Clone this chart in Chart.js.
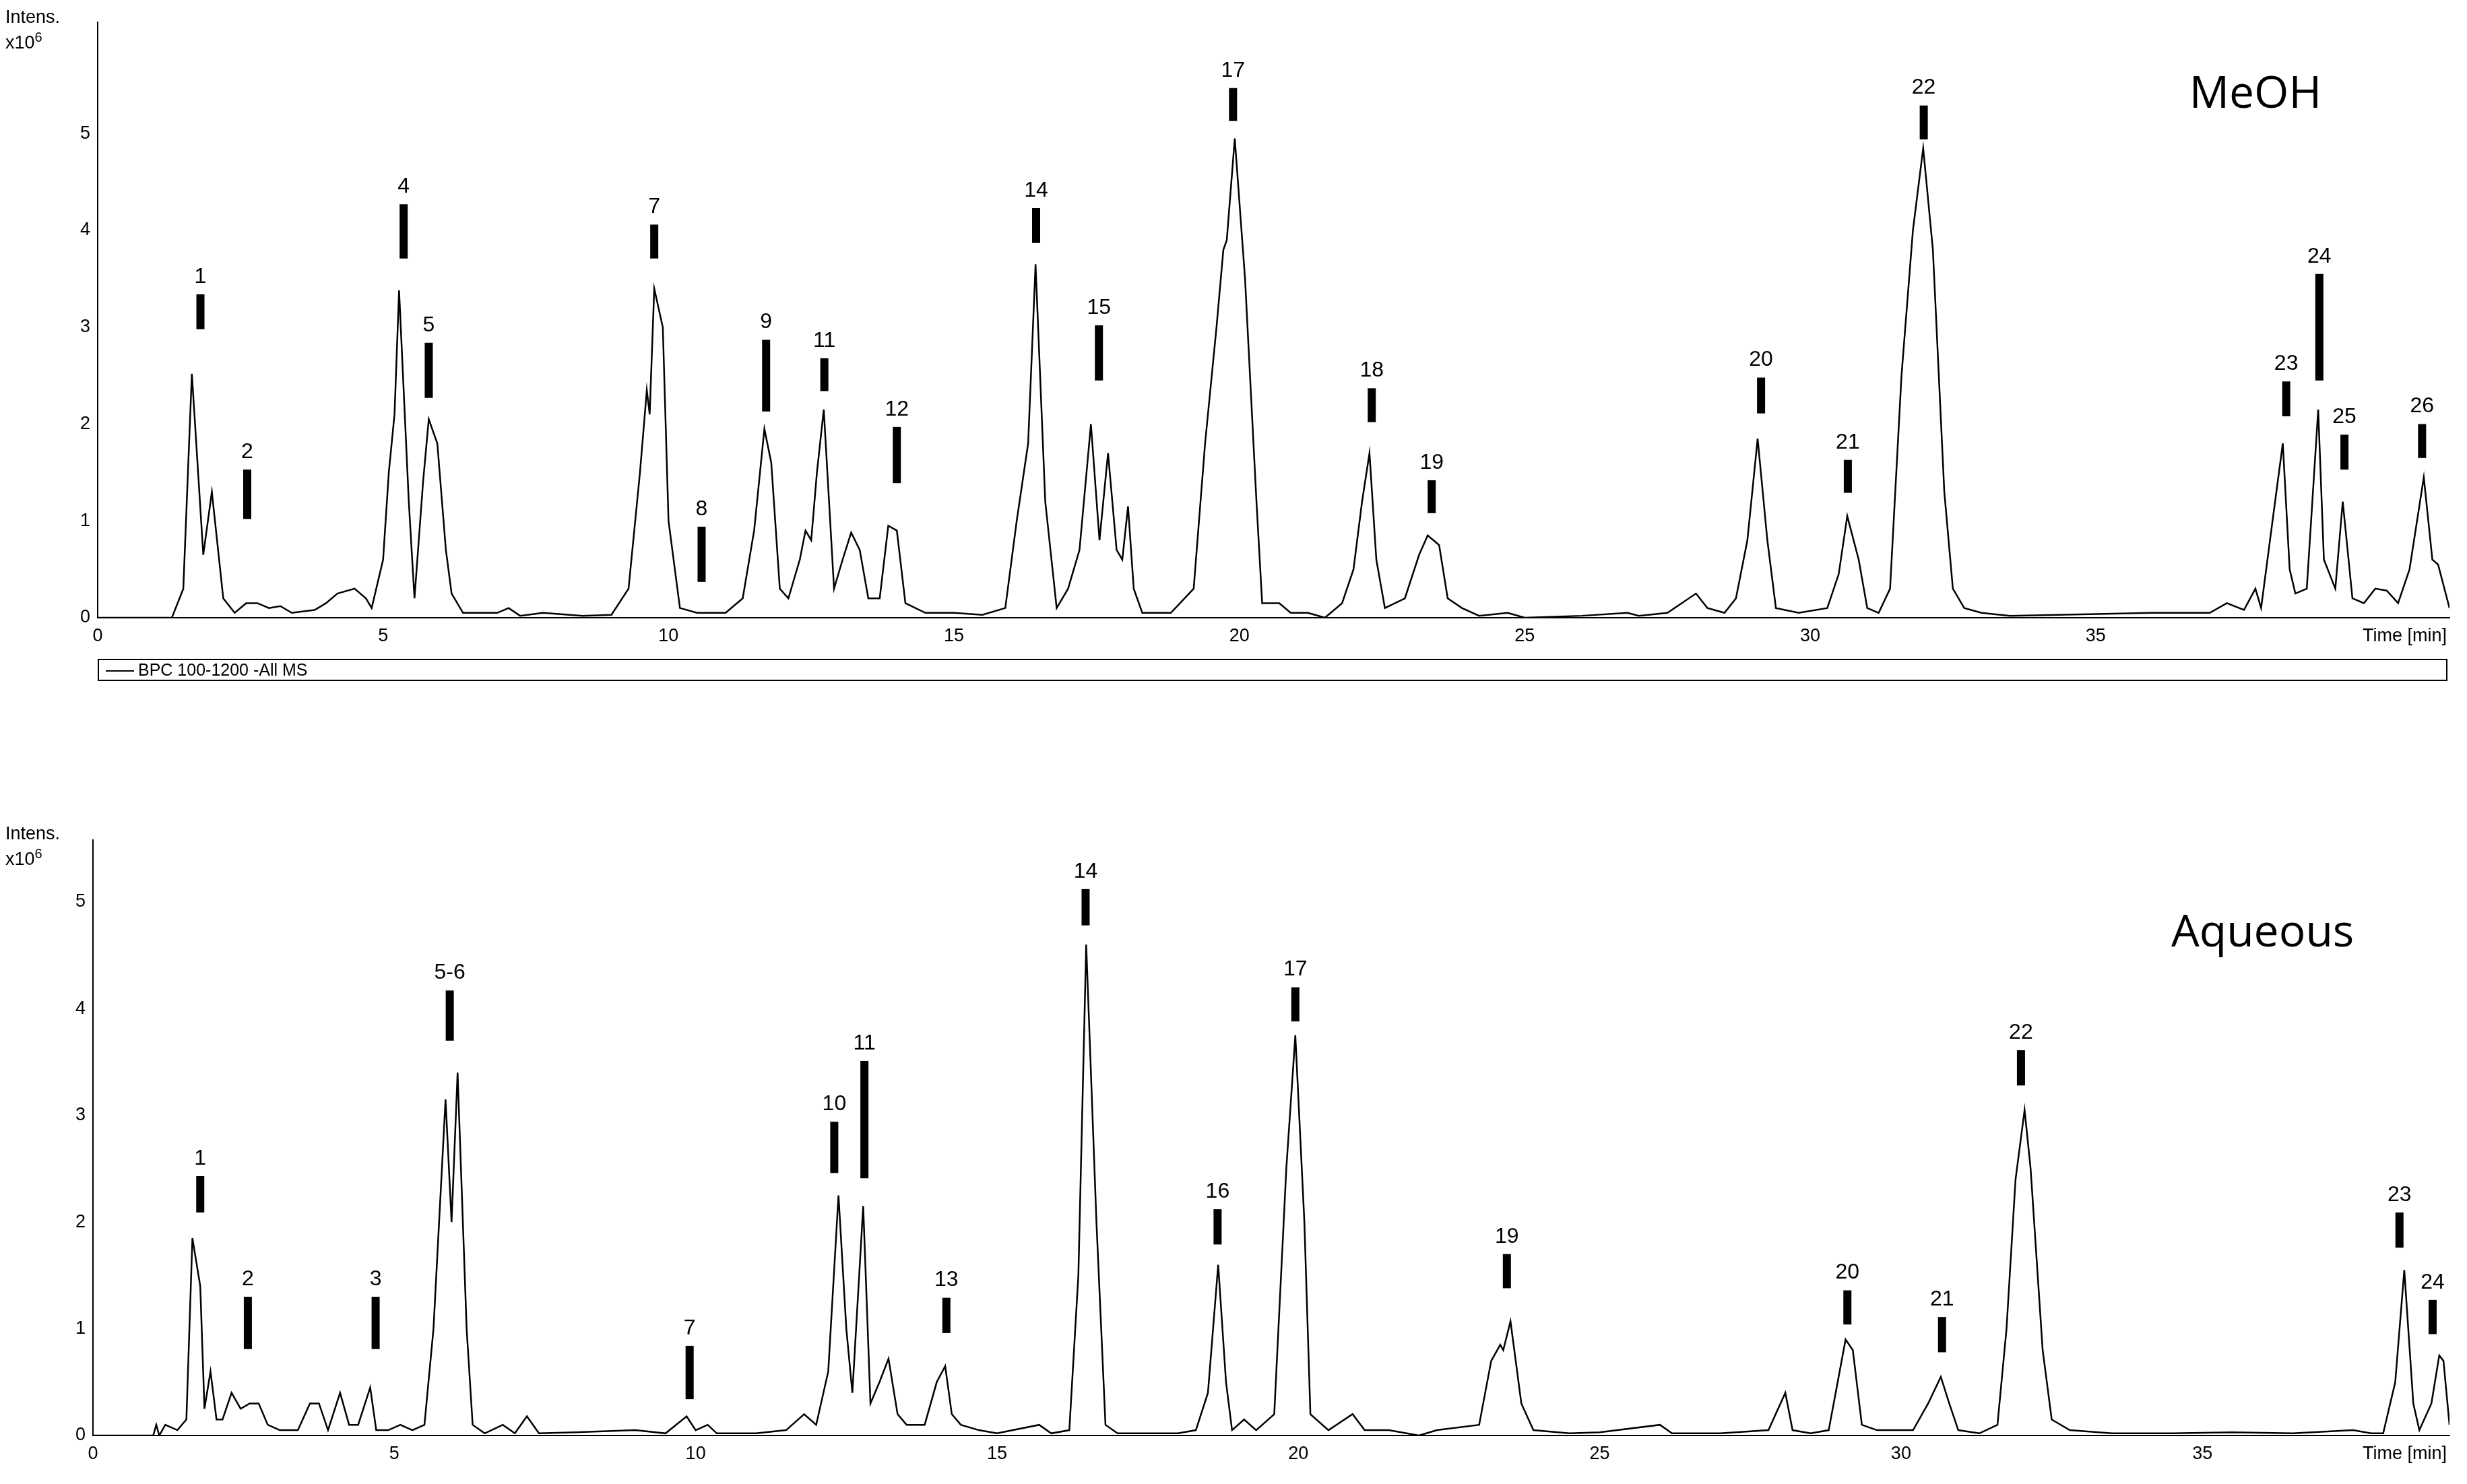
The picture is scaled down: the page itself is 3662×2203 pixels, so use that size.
<!DOCTYPE html>
<html><head><meta charset="utf-8">
<script src="https://cdn.jsdelivr.net/npm/chart.js@4"></script>
<style>
body{margin:0;width:3662px;height:2203px;background:#fff;position:relative;overflow:hidden;font-family:"Liberation Sans",Arial,sans-serif}
.c{position:absolute;left:0;width:3662px;height:990px}
.t{position:absolute;font-size:27px;line-height:30px;color:#000}
</style></head><body>
<div class="c" style="top:0"><canvas id="c1"></canvas></div>
<div class="c" style="top:1214px"><canvas id="c2"></canvas></div>
<div class="t" style="left:8px;top:10px">Intens.<br>x10<sup style="font-size:20px">6</sup></div>
<div class="t" style="left:8px;top:1222px">Intens.<br>x10<sup style="font-size:20px">6</sup></div>
<div style="position:absolute;left:145px;top:978px;width:3488px;height:33px;border:2px solid #000;box-sizing:border-box;font-size:25px;line-height:29px">
<span style="display:inline-block;width:42px;border-top:2px solid #000;vertical-align:middle;margin:0 6px 0 10px"></span>BPC 100-1200 -All MS</div>
<script>
const meohTime=[0,1.3,1.5,1.65,1.85,2.0,2.2,2.4,2.6,2.8,3.0,3.2,3.4,3.8,4.0,4.2,4.5,4.7,4.8,5.0,5.1,5.2,5.28,5.45,5.55,5.7,5.8,5.95,6.1,6.2,6.4,7.0,7.2,7.4,7.8,8.5,9.0,9.3,9.5,9.62,9.67,9.75,9.9,10.0,10.2,10.5,10.8,11.0,11.3,11.5,11.68,11.8,11.95,12.1,12.3,12.4,12.5,12.6,12.72,12.9,13.05,13.2,13.35,13.5,13.7,13.85,14.0,14.15,14.5,15.0,15.5,15.9,16.1,16.3,16.43,16.6,16.8,17.0,17.2,17.4,17.55,17.7,17.85,17.95,18.05,18.15,18.3,18.8,19.2,19.4,19.6,19.72,19.78,19.92,20.1,20.3,20.4,20.7,20.9,21.2,21.5,21.8,22.0,22.15,22.28,22.4,22.55,22.9,23.15,23.3,23.5,23.65,23.9,24.2,24.7,25.0,26.0,26.8,27.0,27.5,28.0,28.2,28.5,28.7,28.9,29.08,29.25,29.4,29.8,30.3,30.5,30.65,30.85,31.0,31.2,31.4,31.6,31.8,31.98,32.15,32.35,32.5,32.7,33.0,33.5,36.0,37.0,37.3,37.6,37.8,37.9,38.1,38.28,38.4,38.5,38.7,38.9,39.0,39.2,39.33,39.5,39.7,39.9,40.1,40.3,40.5,40.75,40.9,41.0,41.2];
const meohVal=[0,0,0.3,2.52,0.65,1.3,0.2,0.05,0.15,0.15,0.1,0.12,0.05,0.08,0.15,0.25,0.3,0.2,0.1,0.6,1.5,2.1,3.38,1.2,0.2,1.4,2.05,1.8,0.7,0.25,0.05,0.05,0.1,0.02,0.05,0.02,0.03,0.3,1.5,2.35,2.1,3.4,3.0,1.0,0.1,0.05,0.05,0.05,0.2,0.9,1.95,1.6,0.3,0.2,0.6,0.9,0.8,1.5,2.15,0.3,0.6,0.88,0.7,0.2,0.2,0.95,0.9,0.15,0.05,0.05,0.03,0.1,1.0,1.8,3.65,1.2,0.1,0.3,0.7,2.0,0.8,1.7,0.7,0.6,1.15,0.3,0.05,0.05,0.3,1.8,3.0,3.8,3.9,4.95,3.5,1.2,0.15,0.15,0.05,0.05,0,0.15,0.5,1.2,1.7,0.6,0.1,0.2,0.65,0.85,0.75,0.2,0.1,0.02,0.05,0,0.02,0.05,0.02,0.05,0.25,0.1,0.05,0.2,0.8,1.85,0.8,0.1,0.05,0.1,0.45,1.05,0.6,0.1,0.05,0.3,2.5,4.0,4.85,3.8,1.3,0.3,0.1,0.05,0.02,0.05,0.05,0.15,0.08,0.3,0.1,1.0,1.8,0.5,0.25,0.3,2.15,0.6,0.3,1.2,0.2,0.15,0.3,0.28,0.15,0.5,1.45,0.6,0.55,0.1];
const aqTime=[0,1.0,1.05,1.1,1.2,1.4,1.55,1.65,1.78,1.85,1.95,2.05,2.15,2.3,2.45,2.6,2.75,2.9,3.1,3.4,3.6,3.75,3.9,4.1,4.25,4.4,4.6,4.7,4.9,5.1,5.3,5.5,5.65,5.85,5.95,6.05,6.2,6.3,6.5,6.8,7.0,7.2,7.4,8.0,9.0,9.5,9.85,10.0,10.2,10.35,11.0,11.5,11.8,12.0,12.2,12.37,12.5,12.6,12.78,12.9,13.05,13.2,13.35,13.5,13.8,14.0,14.14,14.25,14.4,14.7,15.0,15.7,15.9,16.2,16.35,16.48,16.65,16.8,17.0,17.5,18.0,18.3,18.5,18.67,18.8,18.9,19.1,19.3,19.6,19.8,19.95,20.1,20.2,20.5,20.9,21.1,21.5,22.0,22.3,23.0,23.2,23.35,23.4,23.52,23.7,23.9,24.5,25.0,26.0,26.2,27.0,27.8,28.08,28.2,28.5,28.8,29.08,29.2,29.35,29.6,30.2,30.45,30.66,30.8,30.95,31.3,31.6,31.75,31.9,32.05,32.15,32.35,32.5,32.8,33.5,34.5,35.5,36.5,37.5,37.8,38.0,38.2,38.35,38.5,38.6,38.8,38.93,39.0,39.1];
const aqVal=[0,0,0.1,0,0.1,0.05,0.15,1.85,1.4,0.25,0.6,0.15,0.15,0.4,0.25,0.3,0.3,0.1,0.05,0.05,0.3,0.3,0.05,0.4,0.1,0.1,0.45,0.05,0.05,0.1,0.05,0.1,1.0,3.15,2.0,3.4,1.0,0.1,0.02,0.1,0.02,0.18,0.02,0.03,0.05,0.02,0.18,0.05,0.1,0.02,0.02,0.05,0.2,0.1,0.6,2.25,1.0,0.4,2.15,0.3,0.5,0.72,0.2,0.1,0.1,0.5,0.65,0.2,0.1,0.05,0.02,0.1,0.02,0.05,1.5,4.6,2.0,0.1,0.02,0.02,0.02,0.05,0.4,1.6,0.5,0.05,0.15,0.05,0.2,2.5,3.75,2.0,0.2,0.05,0.2,0.05,0.05,0,0.05,0.1,0.7,0.85,0.8,1.07,0.3,0.05,0.02,0.03,0.1,0.02,0.02,0.05,0.4,0.05,0.02,0.05,0.9,0.8,0.1,0.05,0.05,0.3,0.55,0.3,0.05,0.02,0.1,1.0,2.4,3.05,2.5,0.8,0.15,0.05,0.02,0.02,0.03,0.02,0.05,0.02,0.02,0.5,1.55,0.3,0.05,0.3,0.75,0.7,0.1];
const meohMarkLabel=["1","2","4","5","7","8","9","11","12","14","15","17","18","19","20","21","22","23","24","25","26"];
const meohMarkTime=[1.8,2.62,5.36,5.8,9.75,10.58,11.71,12.73,14.0,16.44,17.54,19.89,22.32,23.37,29.14,30.66,31.99,38.34,38.92,39.36,40.72];
const meohMarkLow=[2.98,1.02,3.71,2.27,3.71,0.37,2.13,2.34,1.39,3.87,2.45,5.13,2.02,1.08,2.11,1.29,4.94,2.08,2.45,1.53,1.65];
const meohMarkHigh=[3.34,1.53,4.27,2.84,4.06,0.94,2.87,2.68,1.97,4.23,3.02,5.47,2.37,1.42,2.48,1.63,5.29,2.44,3.55,1.89,2.0];
const aqMarkLabel=["1","2","3","5-6","7","10","11","13","14","16","17","19","20","21","22","23","24"];
const aqMarkTime=[1.78,2.57,4.69,5.92,9.9,12.3,12.8,14.16,16.47,18.66,19.95,23.46,29.11,30.68,31.99,38.27,38.82];
const aqMarkLow=[2.09,0.81,0.81,3.70,0.34,2.46,2.41,0.96,4.78,1.79,3.88,1.38,1.04,0.78,3.28,1.76,0.95];
const aqMarkHigh=[2.43,1.30,1.30,4.17,0.84,2.94,3.51,1.29,5.12,2.12,4.20,1.70,1.36,1.11,3.61,2.09,1.27];
const yTicks=[0,1,2,3,4,5];

const markPlugin={id:'marks',afterDatasetsDraw(ch,a,o){
  const ctx=ch.ctx,x=ch.scales.x,y=ch.scales.y,m=o;
  ctx.save();ctx.fillStyle='#000';ctx.font='32px "Liberation Sans", Arial';ctx.textAlign='center';ctx.textBaseline='bottom';
  m.t.forEach((t,i)=>{const px=x.getPixelForValue(t),y1=y.getPixelForValue(m.hi[i]),y0=y.getPixelForValue(m.lo[i]);
    ctx.fillRect(px-6,y1,12,y0-y1);ctx.fillText(m.lab[i],px,y1-10);});
  ctx.font='66px "Open Sans", "Liberation Sans"';ctx.textAlign='center';ctx.textBaseline='middle';
  ctx.fillText(m.title,x.getPixelForValue(m.tx),y.getPixelForValue(m.ty));
  ctx.font='27px "Liberation Sans", Arial';ctx.textAlign='right';ctx.textBaseline='top';
  ctx.fillText('Time [min]',ch.chartArea.right-4,ch.chartArea.bottom+14);
  ctx.restore();}};

function make(id,tt,vv,xmax,ymax,yw,marks){
  new Chart(document.getElementById(id),{type:'line',
    data:{datasets:[{data:tt.map((t,i)=>({x:t,y:vv[i]})),borderColor:'#000',borderWidth:2.5,pointRadius:0,tension:0,fill:false}]},
    options:{responsive:true,maintainAspectRatio:false,animation:false,
      layout:{padding:{left:0,right:26,top:33,bottom:0}},
      plugins:{legend:{display:false},tooltip:{enabled:false},marks:marks},
      scales:{
        x:{type:'linear',min:0,max:xmax,afterFit(s){s.height=73},grid:{display:false,drawTicks:true},border:{color:'#000',width:2},
          ticks:{stepSize:5,color:'#000',font:{size:27,family:'"Liberation Sans", Arial'},callback:v=>(v%5===0&&v<40)?v:''},
          afterBuildTicks(s){s.ticks=[0,5,10,15,20,25,30,35].map(v=>({value:v}))}},
        y:{min:0,max:ymax,afterFit(s){s.width=yw},grid:{display:false},border:{color:'#000',width:2},
          afterBuildTicks(s){s.ticks=yTicks.map(v=>({value:v}))},
          ticks:{color:'#000',font:{size:27,family:'"Liberation Sans", Arial'}}}}},
    plugins:[markPlugin]});
}
make('c1',meohTime,meohVal,41.2,6.15,145,{t:meohMarkTime,lo:meohMarkLow,hi:meohMarkHigh,lab:meohMarkLabel,title:'MeOH',tx:37.8,ty:5.4});
make('c2',aqTime,aqVal,39.1,5.58,138,{t:aqMarkTime,lo:aqMarkLow,hi:aqMarkHigh,lab:aqMarkLabel,title:'Aqueous',tx:36.0,ty:4.7});
</script></body></html>
